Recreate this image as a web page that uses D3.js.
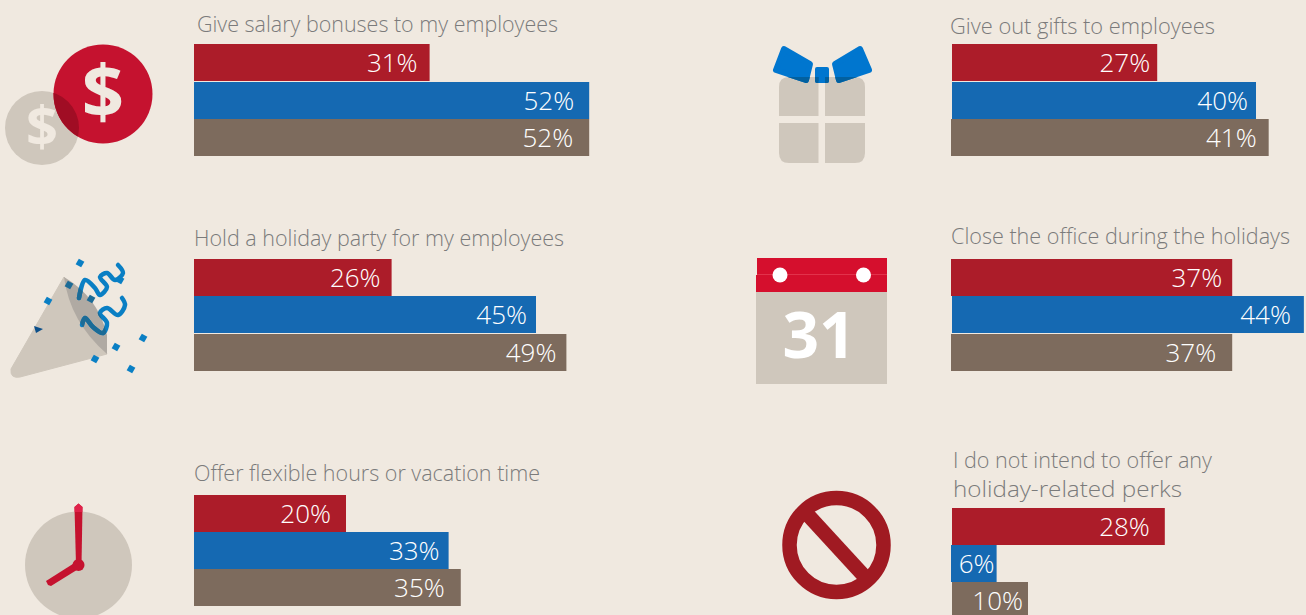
<!DOCTYPE html>
<html><head><meta charset="utf-8">
<script src="https://cdn.jsdelivr.net/npm/d3@7"></script>
<style>html,body{margin:0;padding:0;background:#f0e9e0;overflow:hidden}svg{display:block}</style>
</head><body><div id="chart"></div>
<script>
// ---- data ----
const seriesNames = ["Series A","Series B","Series C"];
const titles = [
  ["Give salary bonuses to my employees"],
  ["Hold a holiday party for my employees"],
  ["Offer flexible hours or vacation time"],
  ["Give out gifts to employees"],
  ["Close the office during the holidays"],
  ["I do not intend to offer any","holiday-related perks"]
];
const labelsPrinted = [
  ["31%","52%","52%"],["26%","45%","49%"],["20%","33%","35%"],
  ["27%","40%","41%"],["37%","44%","37%"],["28%","6%","10%"]
];
// bar lengths as drawn, in percent units (a few drawn bars run longer than their printed label)
const barValues = [
  [31,52,52],[26,45,49],[20,33.5,35.1],
  [27,40,41.8],[37,46.3,37],[28,6,10]
];
// ---- layout ----
const W=1306,H=615,pxPerPct=7.6;
const panelX=[[194,194,194],[194,194,194],[194,194,194],[952,952,951],[951,952,951],[952,951,952]];
const panelY=[[44,82,119],[259,296,334],[495,532,569],[44,82,119],[259,296,334],[508,545,582]];
const labelInset=[[12,15,16],[11,9,10],[15,9,16],[7,8,12],[10,13,16],[15,2,5]];
const titleX=[197,194,194,950,951,953];
const titleY=[[32],[246],[481],[34],[244],[468,497]];
const titleW=[[361],[370],[346],[265],[339],[259,229]];
const barH=37;
const colors=["#ac1c29","#1569b2","#7d6b5d"];
const bg="#f0e9e0",tan="#cfc7bc",grey="#7b7b7b",iconRed="#c5122f",darkRed="#a01a22",iconBlue="#0076cf",confBlue="#0a7fc4";
const fontTxt="'Open Sans','Noto Sans',sans-serif";

const svg=d3.select("#chart").append("svg").attr("width",W).attr("height",H).attr("viewBox",[0,0,W,H]);
svg.append("rect").attr("width",W).attr("height",H).attr("fill",bg);
const x=d3.scaleLinear().domain([0,100]).range([0,100*pxPerPct]);
const defs=svg.append("defs");

// panels
titles.forEach((lines,p)=>{
  const g=svg.append("g").attr("class","panel");
  lines.forEach((t,i)=>{
    g.append("text").attr("x",titleX[p]).attr("y",titleY[p][i]).text(t)
      .attr("font-family",fontTxt).attr("font-weight",300).attr("font-size",21.5)
      .attr("fill",grey).attr("textLength",titleW[p][i]).attr("lengthAdjust","spacingAndGlyphs");
  });
  const rows=d3.range(3);
  g.selectAll("rect.bar").data(rows).join("rect").attr("class","bar")
    .attr("x",i=>panelX[p][i]).attr("y",i=>panelY[p][i])
    .attr("width",i=>x(barValues[p][i])).attr("height",barH)
    .attr("fill",i=>colors[i]);
  g.selectAll("text.val").data(rows).join("text").attr("class","val")
    .attr("x",i=>panelX[p][i]+x(barValues[p][i])-labelInset[p][i])
    .attr("y",i=>panelY[p][i]+barH/2+9.5)
    .attr("text-anchor","end").attr("font-family",fontTxt).attr("font-weight",300)
    .attr("font-size",26).attr("fill","#fff").text(i=>labelsPrinted[p][i]);
});

// ---- icons ----
const ic=svg.append("g").attr("class","icons");
// dollars
ic.append("circle").attr("cx",42).attr("cy",128).attr("r",37).attr("fill",tan);
ic.append("circle").attr("cx",103).attr("cy",94).attr("r",49.5).attr("fill",iconRed);
defs.append("clipPath").attr("id","cD").append("circle").attr("cx",42).attr("cy",128).attr("r",37);
ic.append("circle").attr("cx",103).attr("cy",94).attr("r",49.5).attr("fill","#a00d24").attr("clip-path","url(#cD)");
const dollar=(cx,base,fs)=>ic.append("text").attr("x",cx).attr("y",base).attr("text-anchor","middle")
  .attr("font-family","'Open Sans',sans-serif").attr("font-weight",700).attr("font-size",fs).attr("fill",bg).text("$");
dollar(42,146,56);dollar(103,118,74);

// party cone
ic.append("path").attr("d","M64,277 L107,354 L20,377 Q10,379 11,369 Z").attr("fill",tan).attr("stroke",tan).attr("stroke-width",1).attr("stroke-linejoin","round");
const mouth="M64,277 Q98,297 107,335 L107,354 Q70,322 64,277 Z";
const sLine=d3.line().curve(d3.curveCatmullRom);
const s1=[[79,298],[85,280],[95,288],[100,295],[107,287],[100,277],[107,273],[115,280],[123,273],[118,265]];
const s2=[[82,325],[85,318],[93,327],[103,333],[107,323],[100,313],[107,308],[118,315],[125,305],[122,298]];
ic.append("path").attr("d",mouth).attr("fill","#b0aaa3");
[s1,s2].forEach(s=>ic.append("path").attr("d",sLine(s)).attr("fill","none").attr("stroke",confBlue).attr("stroke-width",4.5).attr("stroke-linecap","round"));
defs.append("clipPath").attr("id","cM").append("path").attr("d",mouth);
[s1,s2].forEach(s=>ic.append("path").attr("d",sLine(s)).attr("fill","none").attr("stroke","#1c6b96").attr("stroke-width",4.5).attr("stroke-linecap","round").attr("clip-path","url(#cM)"));
[[80,263,confBlue],[120,280,confBlue],[69,285,"#1c6b96"],[48,301,confBlue],[91,299,"#1c6b96"],[143,338,confBlue],[116,347,confBlue],[95,359,confBlue],[131,369,confBlue]]
 .forEach(d=>ic.append("rect").attr("x",d[0]-3.2).attr("y",d[1]-3.2).attr("width",6.4).attr("height",6.4).attr("fill",d[2]).attr("transform",`rotate(30 ${d[0]} ${d[1]})`));
ic.append("path").attr("d","M34,326 L43,329 L36,333 Z").attr("fill","#0b4f8a");

// clock
ic.append("circle").attr("cx",78.5).attr("cy",565).attr("r",53.5).attr("fill",tan);
ic.append("path").attr("d","M74.5,507 L78.5,503.5 L82.5,507 L81.5,565 L76,565 Z").attr("fill",iconRed);
ic.append("path").attr("d","M74.5,507 L78.5,503.5 L82.5,507 L82.3,512 L74.6,512 Z").attr("fill","#e0224a");
ic.append("path").attr("d","M46,581 L48,585 L51,586 L80,568 L76,562 Z").attr("fill",iconRed);
ic.append("circle").attr("cx",78.5).attr("cy",565).attr("r",6).attr("fill",iconRed);

// gift
const boxes=[[779,77,39.5,39,"M779,116 V87 Q779,77 789,77 H818.5 V116 Z"],[825,77,40,39,"M825,116 V77 H855 Q865,77 865,87 V116 Z"],
 [779,123,39.5,40,"M779,123 H818.5 V163 H789 Q779,163 779,153 Z"],[825,123,40,40,"M825,123 H865 V153 Q865,163 855,163 H825 Z"]];
boxes.forEach(b=>ic.append("path").attr("d",b[4]).attr("fill",tan));
const wingL="M784,49 L810,64 L806,80 L776,70 Z",wingR="M860,49 L835,64 L839,80 L869,70 Z",knot="M817,69 H827 V81 H817 Z";
defs.append("clipPath").attr("id","cG").selectAll("path").data(boxes).join("path").attr("d",b=>b[4]);
[[iconBlue,null],["#02609f","url(#cG)"]].forEach(([c,cl])=>{
  [wingL,wingR,knot].forEach(d=>{
    const sw=d===knot?4:6;
    const e=ic.append("path").attr("d",d).attr("fill",c).attr("stroke",c).attr("stroke-width",sw).attr("stroke-linejoin","round");
    if(cl) e.attr("clip-path",cl);
  });
});

// calendar
ic.append("rect").attr("x",756).attr("y",292).attr("width",131).attr("height",92).attr("fill",tan);
ic.append("path").attr("d","M757,258 H887 V292 H756 V275 H757 Z").attr("fill","#d50f2d");
ic.append("line").attr("x1",757).attr("x2",887).attr("y1",274.5).attr("y2",274.5).attr("stroke","#e2324b").attr("stroke-width",1);
[780,863.5].forEach(cx=>ic.append("circle").attr("cx",cx).attr("cy",275).attr("r",7.5).attr("fill","#fff"));
ic.append("text").attr("x",819).attr("y",358).attr("text-anchor","middle").attr("font-family","'Open Sans',sans-serif").attr("font-weight",700).attr("font-size",64).attr("fill","#fff").text("31");

// no sign
ic.append("circle").attr("cx",836.5).attr("cy",545).attr("r",47).attr("fill","none").attr("stroke",darkRed).attr("stroke-width",14.5);
ic.append("line").attr("x1",808).attr("y1",515).attr("x2",865).attr("y2",577).attr("stroke",darkRed).attr("stroke-width",14.5);
</script></body></html>
